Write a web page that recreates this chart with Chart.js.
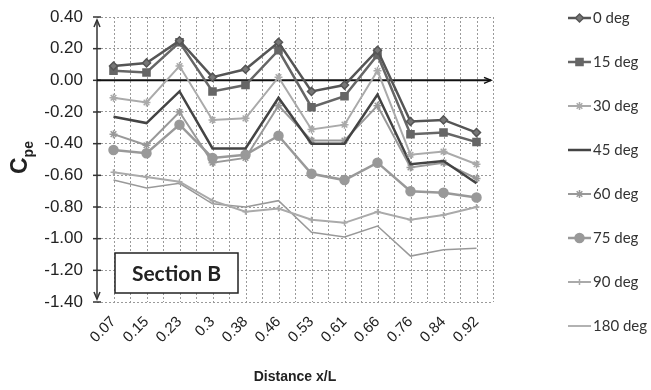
<!DOCTYPE html>
<html>
<head>
<meta charset="utf-8">
<script src="https://cdn.jsdelivr.net/npm/chart.js@4"></script>
<style>
    html, body { margin: 0; padding: 0; background: #fff; }
</style>
</head>
<body>
<canvas id="cpeChart" width="651" height="390"></canvas>
<script>
// Dati (Cpe lungo la sezione B)
const distanze = ['0.07', '0.15', '0.23', '0.3', '0.38', '0.46', '0.53', '0.61', '0.66', '0.76', '0.84', '0.92'];
const deg0   = [0.09, 0.11, 0.25, 0.02, 0.07, 0.24, -0.07, -0.03, 0.19, -0.26, -0.25, -0.33];
const deg15  = [0.06, 0.05, 0.24, -0.07, -0.03, 0.19, -0.17, -0.10, 0.16, -0.34, -0.33, -0.39];
const deg30  = [-0.11, -0.14, 0.09, -0.25, -0.24, 0.02, -0.31, -0.28, 0.06, -0.47, -0.45, -0.53];
const deg45  = [-0.23, -0.27, -0.07, -0.43, -0.43, -0.11, -0.40, -0.40, -0.09, -0.53, -0.51, -0.65];
const deg60  = [-0.34, -0.41, -0.20, -0.52, -0.49, -0.16, -0.38, -0.38, -0.16, -0.55, -0.52, -0.62];
const deg75  = [-0.44, -0.46, -0.28, -0.49, -0.47, -0.35, -0.59, -0.63, -0.52, -0.70, -0.71, -0.74];
const deg90  = [-0.58, -0.61, -0.64, -0.76, -0.83, -0.81, -0.88, -0.90, -0.83, -0.88, -0.85, -0.80];
const deg180 = [-0.63, -0.68, -0.65, -0.78, -0.80, -0.76, -0.96, -0.99, -0.92, -1.11, -1.07, -1.06];

const etichette = ['0 deg', '15 deg', '30 deg', '45 deg', '60 deg', '75 deg', '90 deg', '180 deg'];
const valori = [deg0, deg15, deg30, deg45, deg60, deg75, deg90, deg180];

// Stile di ogni serie (scala di grigi come la scansione)
const stili = [
    { color: '#555', width: 2.5, point: 'rectRot', radius: 4, fill: '#777' },
    { color: '#666', width: 2.5, point: 'rect', radius: 5, fill: '#666' },
    { color: '#aaa', width: 2, point: 'star', radius: 4, fill: '#aaa' },
    { color: '#444', width: 2.5, point: false, radius: 0, fill: '#444' },
    { color: '#999', width: 2, point: 'star', radius: 4, fill: '#999' },
    { color: '#999', width: 2.5, point: 'circle', radius: 4.5, fill: '#999' },
    { color: '#aaa', width: 2, point: 'cross', radius: 3, fill: '#aaa' },
    { color: '#999', width: 1.5, point: false, radius: 0, fill: '#999' }
];

const datasets = valori.map((data, i) => ({
    label: etichette[i],
    data: data,
    borderColor: stili[i].color,
    backgroundColor: stili[i].fill,
    borderWidth: stili[i].width,
    pointStyle: stili[i].point,
    pointRadius: stili[i].radius,
    pointBorderColor: stili[i].color,
    pointBorderWidth: 1.5,
    tension: 0
}));

function freccia(ctx, x, y, dir) {
    // dir: 'up', 'down', 'right'
    ctx.beginPath();
    if (dir === 'up') { ctx.moveTo(x - 3, y + 7); ctx.lineTo(x, y); ctx.lineTo(x + 3, y + 7); }
    if (dir === 'down') { ctx.moveTo(x - 3, y - 7); ctx.lineTo(x, y); ctx.lineTo(x + 3, y - 7); }
    if (dir === 'right') { ctx.moveTo(x - 7, y - 3); ctx.lineTo(x, y); ctx.lineTo(x - 7, y + 3); }
    ctx.stroke();
}

// Griglia verticale, asse y con frecce e linea dello zero
const assiPlugin = {
    id: 'assi',
    beforeDatasetsDraw(chart) {
        const { ctx, chartArea: a, scales: { x, y } } = chart;
        ctx.save();
        const passo = x.getPixelForValue(1) - x.getPixelForValue(0);
        ctx.strokeStyle = '#9a9a9a';
        ctx.lineWidth = 1;
        ctx.setLineDash([2, 2]);
        for (let i = 0; i < distanze.length; i++) {
            const cx = x.getPixelForValue(i);
            [cx, cx + passo / 2].forEach(px => {
                ctx.beginPath();
                ctx.moveTo(Math.round(px) + 0.5, a.top);
                ctx.lineTo(Math.round(px) + 0.5, a.bottom);
                ctx.stroke();
            });
        }
        ctx.setLineDash([]);

        // asse y
        ctx.strokeStyle = '#333';
        ctx.lineWidth = 1.5;
        const x0 = a.left;
        ctx.beginPath();
        ctx.moveTo(x0, a.top + 3);
        ctx.lineTo(x0, a.bottom - 3);
        ctx.stroke();
        freccia(ctx, x0, a.top + 3, 'up');
        freccia(ctx, x0, a.bottom - 3, 'down');
        for (let v = -1.4; v <= 0.41; v += 0.2) {
            const py = y.getPixelForValue(v);
            ctx.beginPath();
            ctx.moveTo(x0 - 4, py);
            ctx.lineTo(x0 + 4, py);
            ctx.stroke();
        }

        // linea dello zero
        const y0 = y.getPixelForValue(0);
        ctx.strokeStyle = '#111';
        ctx.lineWidth = 2;
        ctx.beginPath();
        ctx.moveTo(x0, y0);
        ctx.lineTo(a.right - 2, y0);
        ctx.stroke();
        ctx.lineWidth = 1.5;
        freccia(ctx, a.right - 2, y0, 'right');
        ctx.restore();
    },
    afterDraw(chart) {
        const { ctx } = chart;
        ctx.save();

        // riquadro "Section B"
        ctx.fillStyle = '#fff';
        ctx.fillRect(115, 253, 123, 40);
        ctx.strokeStyle = '#222';
        ctx.lineWidth = 1.5;
        ctx.strokeRect(115, 253, 123, 40);
        ctx.fillStyle = '#222';
        ctx.font = 'bold 21px Lato';
        ctx.textAlign = 'center';
        ctx.textBaseline = 'middle';
        ctx.fillText('Section B', 176.5, 274);

        // titolo asse y: C con pedice pe
        ctx.translate(21, 174);
        ctx.rotate(-Math.PI / 2);
        ctx.textAlign = 'left';
        ctx.font = 'bold 23px "Liberation Sans"';
        ctx.fillText('C', 0, 0);
        const wc = ctx.measureText('C').width;
        ctx.font = 'bold 14px "Liberation Sans"';
        ctx.fillText('pe', wc, 8);
        ctx.setTransform(1, 0, 0, 1, 0, 0);

        // legenda a destra
        ctx.font = '15px Lato';
        ctx.textAlign = 'left';
        ctx.textBaseline = 'middle';
        etichette.forEach((nome, i) => {
            const st = stili[i];
            const ly = 18 + i * 44;
            ctx.strokeStyle = st.color;
            ctx.lineWidth = st.width;
            ctx.beginPath();
            ctx.moveTo(568, ly);
            ctx.lineTo(591, ly);
            ctx.stroke();
            if (st.point) {
                ctx.fillStyle = st.fill;
                ctx.lineWidth = 1.5;
                Chart.helpers.drawPoint(ctx, { pointStyle: st.point, radius: st.radius, rotation: 0, borderWidth: 1.5 }, 579.5, ly);
            }
            ctx.fillStyle = '#333';
            ctx.fillText(nome, 593, ly);
        });
        ctx.restore();
    }
};

new Chart(document.getElementById('cpeChart'), {
    type: 'line',
    data: {
        labels: distanze,
        datasets: datasets
    },
    options: {
        responsive: false,
        animation: false,
        layout: {
            padding: { left: 0, right: 158, top: 17, bottom: 0 }
        },
        plugins: {
            legend: { display: false },
            tooltip: { enabled: false }
        },
        scales: {
            x: {
                offset: true,
                grid: { display: false },
                border: { display: false },
                ticks: {
                    minRotation: 45,
                    maxRotation: 45,
                    padding: 3,
                    color: '#222',
                    font: { family: 'Liberation Sans', size: 15 }
                },
                title: {
                    display: true,
                    text: 'Distance x/L',
                    color: '#222',
                    font: { family: 'Liberation Sans', size: 14, weight: 'bold' },
                    padding: { top: 0, bottom: 4 }
                },
                afterFit(scale) {
                    scale.height = 88;
                    scale.paddingLeft = 0;
                    scale.paddingRight = 0;
                }
            },
            y: {
                min: -1.4,
                max: 0.4,
                grid: { color: '#9a9a9a', lineWidth: 1, drawTicks: false },
                border: { display: false, dash: [2, 2] },
                ticks: {
                    stepSize: 0.2,
                    padding: 14,
                    color: '#222',
                    font: { family: 'Liberation Sans', size: 17 },
                    callback: v => v.toFixed(2)
                },
                afterFit(scale) {
                    scale.width = 97;
                    scale.paddingTop = 0;
                    scale.paddingBottom = 0;
                }
            }
        }
    },
    plugins: [assiPlugin]
});
</script>
</body>
</html>
